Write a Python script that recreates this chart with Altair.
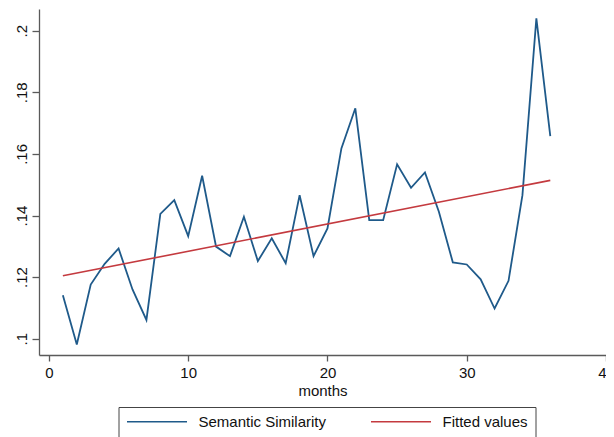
import altair as alt
import pandas as pd

months = list(range(1, 37))
similarity = [0.1141, 0.0981, 0.1176, 0.1243, 0.1293, 0.1160, 0.1061, 0.1405, 0.1450, 0.1333,
              0.1529, 0.1299, 0.1268, 0.1396, 0.1252, 0.1326, 0.1245, 0.1466, 0.1268, 0.1358,
              0.1618, 0.1748, 0.1385, 0.1385, 0.1566, 0.1490, 0.1540, 0.1412, 0.1248, 0.1241,
              0.1193, 0.1098, 0.1188, 0.1466, 0.2040, 0.1658]
series_names = ["Semantic Similarity", "Fitted values"]
series_colors = ["#1f5a8a", "#c43a3f"]
x_ticks = [0, 10, 20, 30, 40]
y_ticks = [0.1, 0.12, 0.14, 0.16, 0.18, 0.2]

df = pd.DataFrame({"month": months, "value": similarity})

FONT = "Liberation Sans"

x_enc = alt.X("month:Q",
              scale=alt.Scale(domain=[-0.714, 40], nice=False, zero=False),
              axis=alt.Axis(values=x_ticks, title="months", grid=False, tickSize=6,
                            labelPadding=4, labelFontSize=15, titleFontSize=15,
                            titleFontWeight="normal", titlePadding=3,
                            domainColor="#5a5a5a", tickColor="#5a5a5a", domainWidth=1.3,
                            tickWidth=1.3, labelColor="#111111", titleColor="#111111",
                            labelFont=FONT, titleFont=FONT, labelFlush=False))
y_enc = alt.Y("value:Q",
              scale=alt.Scale(domain=[0.09471, 0.20705], nice=False, zero=False),
              axis=alt.Axis(values=y_ticks, title=None, grid=False, tickSize=7,
                            labelAngle=270, labelAlign="center", labelBaseline="middle",
                            labelPadding=11, labelFontSize=15,
                            labelExpr="substring(format(datum.value, '.2~f'), 1)",
                            domainColor="#5a5a5a", tickColor="#5a5a5a", domainWidth=1.3,
                            tickWidth=1.3, labelColor="#111111", labelFont=FONT,
                            labelFlush=False))

color_scale = alt.Scale(domain=series_names, range=series_colors)
legend = alt.Legend(title=None, orient="none", legendX=79.5, legendY=398,
                    direction="horizontal", columns=2,
                    symbolType="M-1,0L9,0", symbolSize=144, symbolStrokeWidth=1.6,
                    symbolFillColor="transparent",
                    labelFontSize=15, labelFont=FONT, labelColor="#111111",
                    labelOffset=58, columnPadding=41, padding=7,
                    labelExpr="datum.label == 'Fitted values' ? datum.label + '\u2002\u00a0' : datum.label",
                    strokeColor="#444444", fillColor="#ffffff")

base = alt.Chart(df)

line = base.mark_line(strokeWidth=1.8).encode(
    x=x_enc, y=y_enc,
    color=alt.Color("s:N", scale=color_scale, legend=legend),
).transform_calculate(s="'Semantic Similarity'")

fit = base.transform_regression("month", "value", extent=[1, 36]).transform_calculate(
    s="'Fitted values'"
).mark_line(strokeWidth=1.6).encode(
    x=x_enc, y=y_enc,
    color=alt.Color("s:N", scale=color_scale, legend=legend),
)

chart = alt.layer(line, fit).properties(
    width=567, height=346,
    autosize=alt.AutoSizeParams(type="none"),
    padding={"left": 31, "top": 1, "right": 0, "bottom": 82},
    background="white",
).configure_view(stroke=None)

chart.save("out.html", embed_options={"renderer": "svg", "actions": False})
